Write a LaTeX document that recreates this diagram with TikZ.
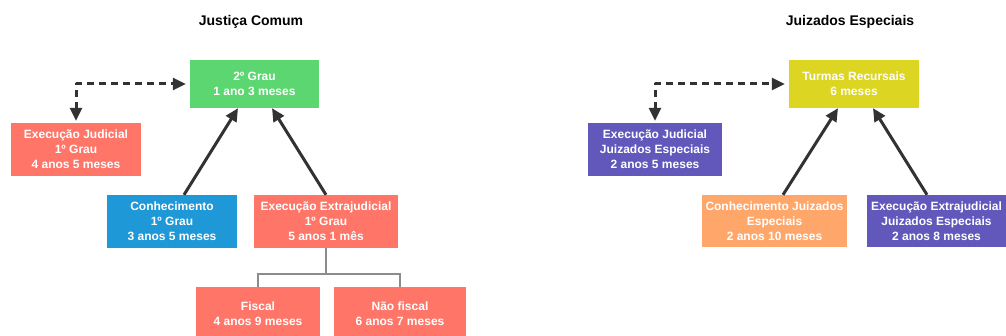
\documentclass[tikz,border=0pt]{standalone}
\usepackage{fontspec}
\setmainfont{Liberation Sans}
\usetikzlibrary{arrows.meta}

\definecolor{boxgreen}{RGB}{92,214,112}
\definecolor{boxred}{RGB}{255,117,104}
\definecolor{boxblue}{RGB}{30,152,214}
\definecolor{boxyellow}{RGB}{220,213,34}
\definecolor{boxpurple}{RGB}{98,88,188}
\definecolor{boxorange}{RGB}{255,167,106}
\definecolor{arrgray}{RGB}{50,50,50}
\definecolor{treegray}{RGB}{140,140,140}

\begin{document}
\begin{tikzpicture}[x=1pt, y=-1pt,
    box/.style={fill=#1, text=white, align=center, inner sep=0pt,
        font=\fontsize{12}{15}\selectfont\bfseries},
    title/.style={font=\fontsize{14}{16}\selectfont\bfseries},
    arr/.style={line width=3pt, arrgray, -{Triangle[length=13pt,width=12pt]}},
    dasharr/.style={line width=3pt, arrgray, dash pattern=on 7pt off 5pt, line join=round,
        {Triangle[length=13pt,width=12pt]}-{Triangle[length=13pt,width=12pt]},
        shorten >=4pt, shorten <=2pt},
    tree/.style={line width=1.5pt, treegray}]
    \useasboundingbox (0,0) rectangle (1006,336);

    % Justica Comum
    \node[title] (tcomum) at (251,22) {Justiça Comum};
    \node[box=boxgreen, minimum width=129pt, minimum height=48pt] (grau2) at (254.5,84) {2º Grau\\1 ano 3 meses};
    \node[box=boxred, minimum width=130pt, minimum height=53pt] (execjud) at (76,149.5) {Execução Judicial\\1º Grau\\4 anos 5 meses};
    \node[box=boxblue, minimum width=130pt, minimum height=53pt] (conhec) at (172,221.5) {Conhecimento\\1º Grau\\3 anos 5 meses};
    \node[box=boxred, minimum width=144pt, minimum height=53pt] (extraj) at (326,221.5) {Execução Extrajudicial\\1º Grau\\5 anos 1 mês};
    \node[box=boxred, minimum width=124pt, minimum height=53pt] (fiscal) at (258,313.5) {Fiscal\\4 anos 9 meses};
    \node[box=boxred, minimum width=132pt, minimum height=53pt] (naofiscal) at (400,313.5) {Não fiscal\\6 anos 7 meses};

    \draw[dasharr] (execjud.north) |- (grau2.west);
    \draw[arr] ([xshift=12pt]conhec.north) -- ([xshift=-16.5pt]grau2.south);
    \draw[arr] (extraj.north) -- ([xshift=17.5pt]grau2.south);

    \coordinate (split) at (326,274);
    \draw[tree] (extraj.south) -- (split);
    \draw[tree] (split) -| (fiscal.north);
    \draw[tree] (split) -| (naofiscal.north);

    % Juizados Especiais
    \node[title] (tjuiz) at (850,22) {Juizados Especiais};
    \node[box=boxyellow, minimum width=130pt, minimum height=48pt] (turmas) at (854,84) {Turmas Recursais\\6 meses};
    \node[box=boxpurple, minimum width=134pt, minimum height=53pt] (execje) at (655,149.5) {Execução Judicial\\Juizados Especiais\\2 anos 5 meses};
    \node[box=boxorange, minimum width=145pt, minimum height=52pt] (conhje) at (774.5,221) {Conhecimento Juizados\\Especiais\\2 anos 10 meses};
    \node[box=boxpurple, minimum width=139pt, minimum height=52pt] (extrje) at (936.5,221) {Execução Extrajudicial\\Juizados Especiais\\2 anos 8 meses};

    \draw[dasharr] (execje.north) |- (turmas.west);
    \draw[arr] ([xshift=8.5pt]conhje.north) -- ([xshift=-16pt]turmas.south);
    \draw[arr] ([xshift=-9.5pt]extrje.north) -- ([xshift=19pt]turmas.south);
\end{tikzpicture}
\end{document}
